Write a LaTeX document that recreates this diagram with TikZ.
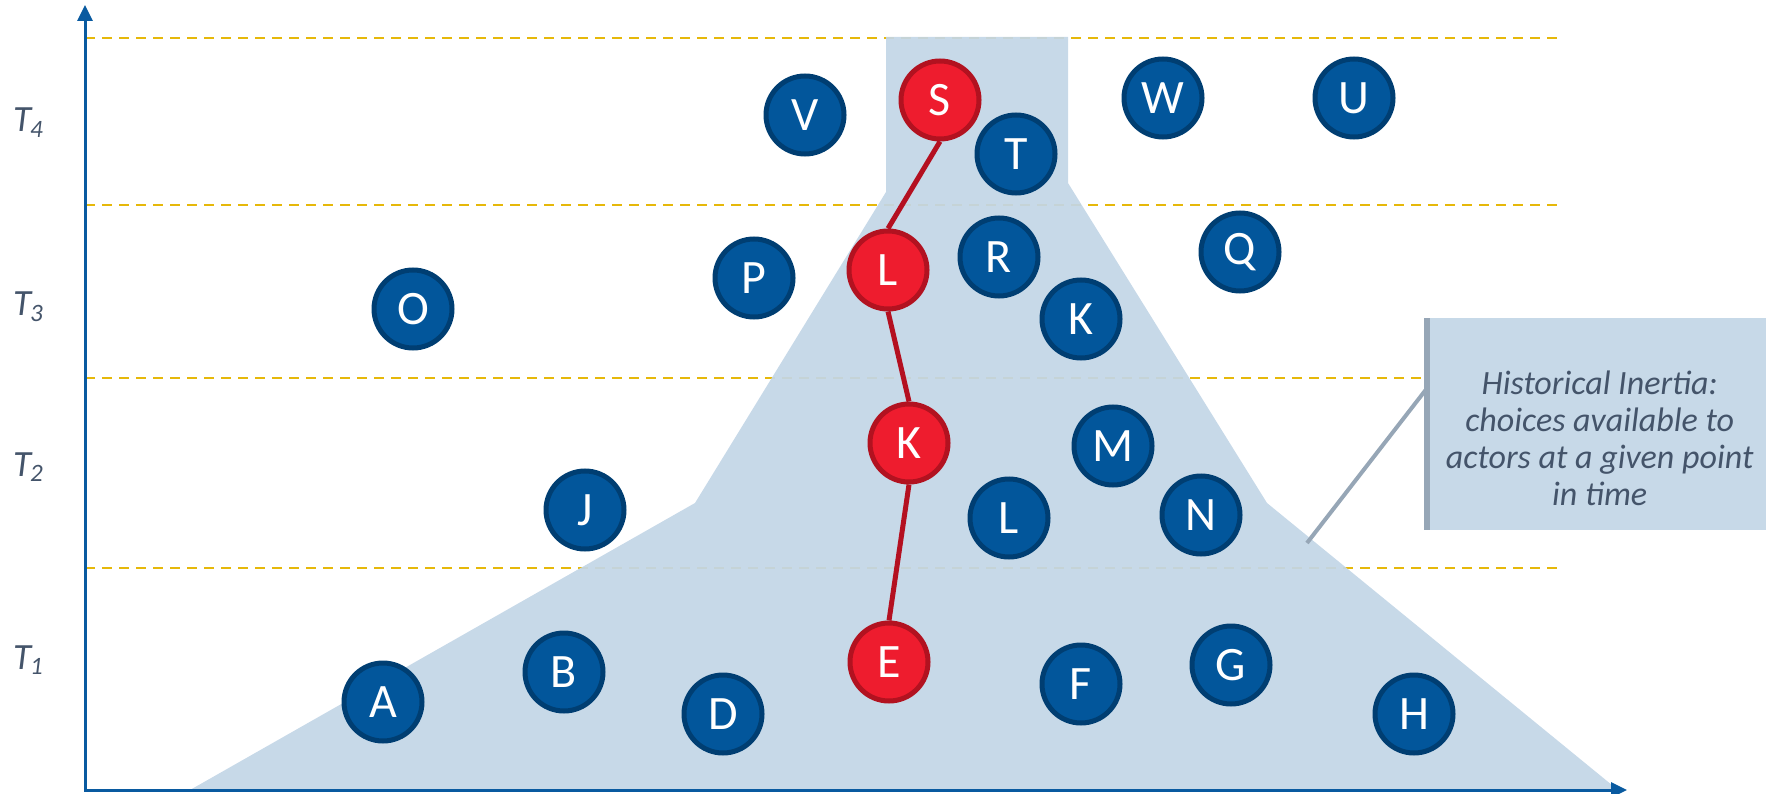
\documentclass[tikz,border=0pt]{standalone}
\usepackage{fontspec}
\setmainfont{Carlito}
\usetikzlibrary{arrows.meta}
\pgfdeclarelayer{bg}
\pgfdeclarelayer{mid}
\pgfsetlayers{bg,mid,main}

\definecolor{actorblue}{RGB}{2,86,155}
\definecolor{actoredge}{RGB}{0,62,114}
\definecolor{pathred}{RGB}{238,28,46}
\definecolor{pathedge}{RGB}{178,18,32}
\definecolor{linkred}{RGB}{180,16,32}
\definecolor{inertia}{RGB}{195,214,230}
\definecolor{guidegold}{RGB}{230,184,10}
\definecolor{axisblue}{RGB}{9,90,160}
\definecolor{labelgray}{RGB}{68,84,106}
\definecolor{calloutgray}{RGB}{150,166,182}
\definecolor{notefill}{RGB}{199,217,232}

\tikzset{
  actor/.style={circle, inner sep=0pt, minimum size=78pt, line width=5pt,
    draw=actoredge, fill=actorblue, text=white,
    font=\fontsize{48}{50}\selectfont},
  chosen/.style={actor, draw=pathedge, fill=pathred},
  link/.style={draw=linkred, line width=5pt},
  guideline/.style={draw=guidegold, line width=2pt, dash pattern=on 10pt off 7pt},
  axisline/.style={draw=axisblue, line width=3pt,
    {Triangle[length=16pt,width=15pt]}-{Triangle[length=16pt,width=15pt]}},
  period/.style={anchor=base west, text=labelgray, inner sep=0pt,
    font=\fontsize{37}{40}\selectfont\itshape},
  calloutbox/.style={rectangle, fill=notefill, anchor=north west,
    minimum width=339pt, minimum height=212pt, inner sep=0pt},
  callouttext/.style={inner sep=0pt, text=labelgray, align=center,
    font=\fontsize{34}{37}\selectfont\itshape},
  calloutline/.style={draw=calloutgray, line width=4pt},
}

\newcommand{\periodlabel}[1]{T\kern-1pt\raisebox{-0.3ex}{\fontsize{25}{28}\selectfont #1}}

\begin{document}
\begin{tikzpicture}[x=1pt,y=-1pt]
\useasboundingbox (0,0) rectangle (1766,794);

% time period separators and the funnel of available choices
\begin{pgfonlayer}{bg}
  \foreach \yy in {38,205,378,568}
    \draw[guideline] (85,\yy) -- (1560,\yy);
  \fill[inertia, fill opacity=0.93] (190,790) -- (695,503) -- (886,192) -- (886,37) -- (1068,37)
    -- (1068,183) -- (1267,503) -- (1618,790) -- cycle;
\end{pgfonlayer}

% axes
\coordinate (ytop) at (85,5);
\coordinate (origin) at (85,790);
\coordinate (xend) at (1627,790);
\draw[axisline] (ytop) -- (origin) -- (xend);

% period labels
\node[period] (t4) at (13,132) {\periodlabel{4}};
\node[period] (t3) at (13,316) {\periodlabel{3}};
\node[period] (t2) at (13,476) {\periodlabel{2}};
\node[period] (t1) at (13,669) {\periodlabel{1}};

% T1 actors
\node[actor]  (A)  at (383,702)  {A};
\node[actor]  (B)  at (564,672)  {B};
\node[actor]  (D)  at (723,714)  {D};
\node[chosen] (E)  at (889,662)  {E};
\node[actor]  (F)  at (1081,684) {F};
\node[actor]  (G)  at (1231,665) {G};
\node[actor]  (H)  at (1414,714) {H};
% T2 actors
\node[actor]  (J)  at (585,510)  {J};
\node[chosen] (Kr) at (909,443)  {K};
\node[actor]  (Lb) at (1009,518) {L};
\node[actor]  (M)  at (1113,446) {M};
\node[actor]  (N)  at (1201,515) {N};
% T3 actors
\node[actor]  (O)  at (413,309)  {O};
\node[actor]  (P)  at (754,278)  {P};
\node[chosen] (Lr) at (888,270)  {L};
\node[actor]  (R)  at (999,257)  {R};
\node[actor]  (Kb) at (1081,319) {K};
\node[actor]  (Q)  at (1240,252) {Q};
% T4 actors
\node[actor]  (V)  at (805,115)  {V};
\node[chosen] (S)  at (940,100)  {S};
\node[actor]  (T)  at (1016,154) {T};
\node[actor]  (W)  at (1163,98)  {W};
\node[actor]  (U)  at (1354,98)  {U};

% the path actually taken
\begin{pgfonlayer}{mid}
  \draw[link] (S.south) -- (Lr.north);
  \draw[link] (Lr.south) -- (Kr.north);
  \draw[link] (Kr.south) -- (E.north);
\end{pgfonlayer}

% callout
\node[calloutbox] (note) at (1427,318) {};
\node[callouttext] (notetext) at ([xshift=3pt,yshift=-14pt]note.center)
  {Historical Inertia:\\choices available to\\actors at a given point\\in time};
\draw[draw=calloutgray, line width=6pt] (note.north west) -- (note.south west);
\coordinate (funnel) at (1307,543);
\draw[calloutline] (funnel) -- ([yshift=36pt]note.west);
\end{tikzpicture}
\end{document}
